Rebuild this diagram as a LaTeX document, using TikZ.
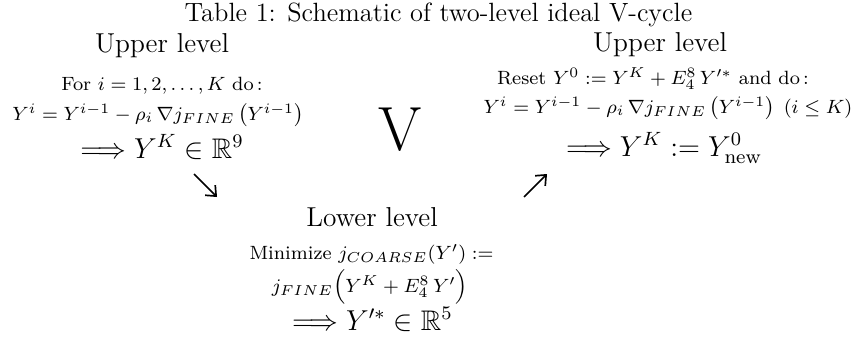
\documentclass[tikz,border=0pt]{standalone}
\usepackage{amsmath,amssymb}
\usepackage{tikz}
\usetikzlibrary{arrows.meta}

\begin{document}
\begin{tikzpicture}[
    x=0.41667pt, y=-0.41667pt,
    caption/.style={anchor=base, inner sep=0pt, font=\fontsize{11}{13.6}\selectfont},
    level/.style={anchor=base, inner sep=0pt, font=\fontsize{11.4}{14}\selectfont},
    steptext/.style={anchor=base, inner sep=0pt, font=\footnotesize},
    result/.style={anchor=base, inner sep=0pt, font=\fontsize{11.8}{14}\selectfont},
    bigv/.style={anchor=base, inner sep=0pt, font=\fontsize{26}{30}\selectfont},
    arrow/.style={-{Straight Barb[length=3.5pt,width=6pt]}, line width=0.7pt}
]
\useasboundingbox (0,0) rectangle (863,338);

% caption
\node[caption] (cap) at (438.5,21) {Table 1: Schematic of two-level ideal V-cycle};

% upper level, going down
\node[level] (upL) at (162,52) {Upper level};
\node[steptext] (forL) at (162,90) {For $i=1,2,\dots,K$ do\,:};
\node[steptext] (iterL) at (158,120) {$Y^i = Y^{i-1} - \rho_i\,\nabla j_{FINE}\left(Y^{i-1}\right)$};
\node[result] (resL) at (162,158) {$\Longrightarrow Y^K \in \mathbb{R}^9$};

\node[bigv] (vee) at (400,150) {V};

% upper level, going up
\node[level] (upR) at (660,51) {Upper level};
\node[steptext] (resetR) at (653,84) {Reset $Y^0 := Y^K + E_4^8\,Y'^{*}$ and do\,:};
\node[steptext] (iterR) at (668,113) {$Y^i = Y^{i-1} - \rho_i\,\nabla j_{FINE}\left(Y^{i-1}\right)\;(i\leq K)$};
\node[result] (resR) at (664,156) {$\Longrightarrow Y^K := Y^0_{\text{new}}$};

% lower level
\node[level] (low) at (372,226) {Lower level};
\node[steptext] (minC) at (371.5,259) {Minimize $j_{COARSE}(Y') :=$};
\node[steptext] (funC) at (370,292) {$j_{FINE}\Bigl(Y^K + E_4^8\,Y'\Bigr)$};
\node[result] (resC) at (372.5,330) {$\Longrightarrow Y'^{*} \in \mathbb{R}^5$};

% restriction and prolongation
\coordinate (dnA) at (194,174);
\coordinate (dnB) at (217,197);
\coordinate (upA) at (524,197);
\coordinate (upB) at (547,174);
\draw[arrow] (dnA) -- (dnB);
\draw[arrow] (upA) -- (upB);
\end{tikzpicture}
\end{document}
